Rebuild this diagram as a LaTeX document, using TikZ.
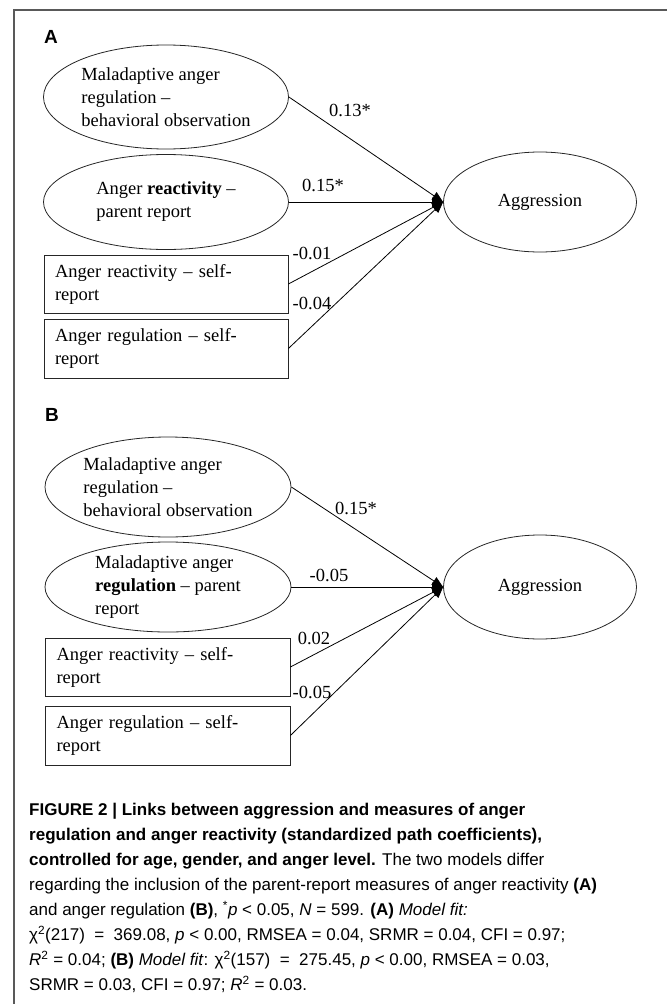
\documentclass[tikz,border=0pt]{standalone}
\usepackage{fontspec}
\setmainfont{Liberation Serif}
\newfontfamily\capfont{Liberation Sans}
\usetikzlibrary{shapes.geometric,arrows.meta}

\tikzset{
  latent/.style={ellipse, draw=black!85, line width=0.8pt, inner sep=0pt, align=left, font=\fontsize{18.5}{23}\selectfont},
  observed/.style={rectangle, draw=black!85, line width=0.8pt, minimum height=58pt, text width=222pt, inner xsep=11pt, inner ysep=0pt, align=left, font=\fontsize{18.5}{23}\selectfont},
  coef/.style={inner sep=0pt, font=\fontsize{18.5}{23}\selectfont},
  link/.style={draw, line width=0.8pt, -{Triangle[length=11pt,width=9pt]}},
  panel/.style={inner sep=0pt, font=\capfont\bfseries\fontsize{19}{23}\selectfont},
}

\begin{document}
\begin{tikzpicture}[x=1pt,y=-1pt]
\useasboundingbox (0,0) rectangle (667,1004);
\draw[black!65, line width=1.3pt] (14,1004) -- (14,10) -- (667,10);

% panel A
\node[panel] (labA) at (51,37) {A};
\node[latent, minimum width=245pt, minimum height=104pt] (behA) at (166,97)
  {Maladaptive anger\\regulation –\\behavioral observation};
\node[latent, minimum width=245pt, minimum height=95pt] (parA) at (166,202)
  {Anger \textbf{reactivity} –\\parent report};
\node[latent, minimum width=193pt, minimum height=100pt] (aggA) at (540,202) {Aggression};
\node[observed] (reaA) at (166,284) {Anger reactivity – self-\\report};
\node[observed, minimum height=59pt] (regA) at (166,348.5) {Anger regulation – self-\\report};

\draw[link] (behA.east) -- (aggA.west);
\draw[link] (parA.east) -- (aggA.west);
\draw[link] (reaA.east) -- (aggA.west);
\draw[link] (regA.east) -- (aggA.west);

\node[coef] (cA1) at (350,110) {0.13*};
\node[coef] (cA2) at (323,185) {0.15*};
\node[coef] (cA3) at (312,253) {-0.01};
\node[coef] (cA4) at (312,303) {-0.04};

% panel B
\node[panel] (labB) at (52,415) {B};
\node[latent, minimum width=246pt, minimum height=100pt] (behB) at (168,487)
  {Maladaptive anger\\regulation –\\behavioral observation};
\node[latent, minimum width=246pt, minimum height=90pt] (parB) at (168,587)
  {Maladaptive anger\\\textbf{regulation} – parent\\report};
\node[latent, minimum width=193pt, minimum height=104pt] (aggB) at (540,587) {Aggression};
\node[observed, minimum width=245pt] (reaB) at (167.5,667) {Anger reactivity – self-\\report};
\node[observed, minimum width=245pt, minimum height=59pt] (regB) at (167.5,735.5) {Anger regulation – self-\\report};

\draw[link] (behB.east) -- (aggB.west);
\draw[link] (parB.east) -- (aggB.west);
\draw[link] (reaB.east) -- (aggB.west);
\draw[link] (regB.east) -- (aggB.west);

\node[coef] (cB1) at (356,508) {0.15*};
\node[coef] (cB2) at (329,575) {-0.05};
\node[coef] (cB3) at (314,638) {0.02};
\node[coef] (cB4) at (312,692) {-0.05};

% caption
\node[anchor=north west, inner sep=0pt, align=left, font=\capfont\fontsize{17}{25}\selectfont] (cap) at (29,803)
  {\textbf{FIGURE 2 | Links between aggression and measures of anger}\\
   \textbf{regulation and anger reactivity (standardized path coefficients),}\\
   \textbf{controlled for age, gender, and anger level.} The two models differ\\
   regarding the inclusion of the parent-report measures of anger reactivity \textbf{(A)}\\
   and anger regulation \textbf{(B)}, \textsuperscript{*}\textit{p} < 0.05, \textit{N} = 599. \textbf{(A)} \textit{Model fit:}\\
   χ\textsuperscript{2}(217) \ = \ 369.08, \textit{p} < 0.00, RMSEA = 0.04, SRMR = 0.04, CFI = 0.97;\\
   \textit{R}\textsuperscript{2} = 0.04; \textbf{(B)} \textit{Model fit}: χ\textsuperscript{2}(157) \ = \ 275.45, \textit{p} < 0.00, RMSEA = 0.03,\\
   SRMR = 0.03, CFI = 0.97; \textit{R}\textsuperscript{2} = 0.03.};
\end{tikzpicture}
\end{document}
